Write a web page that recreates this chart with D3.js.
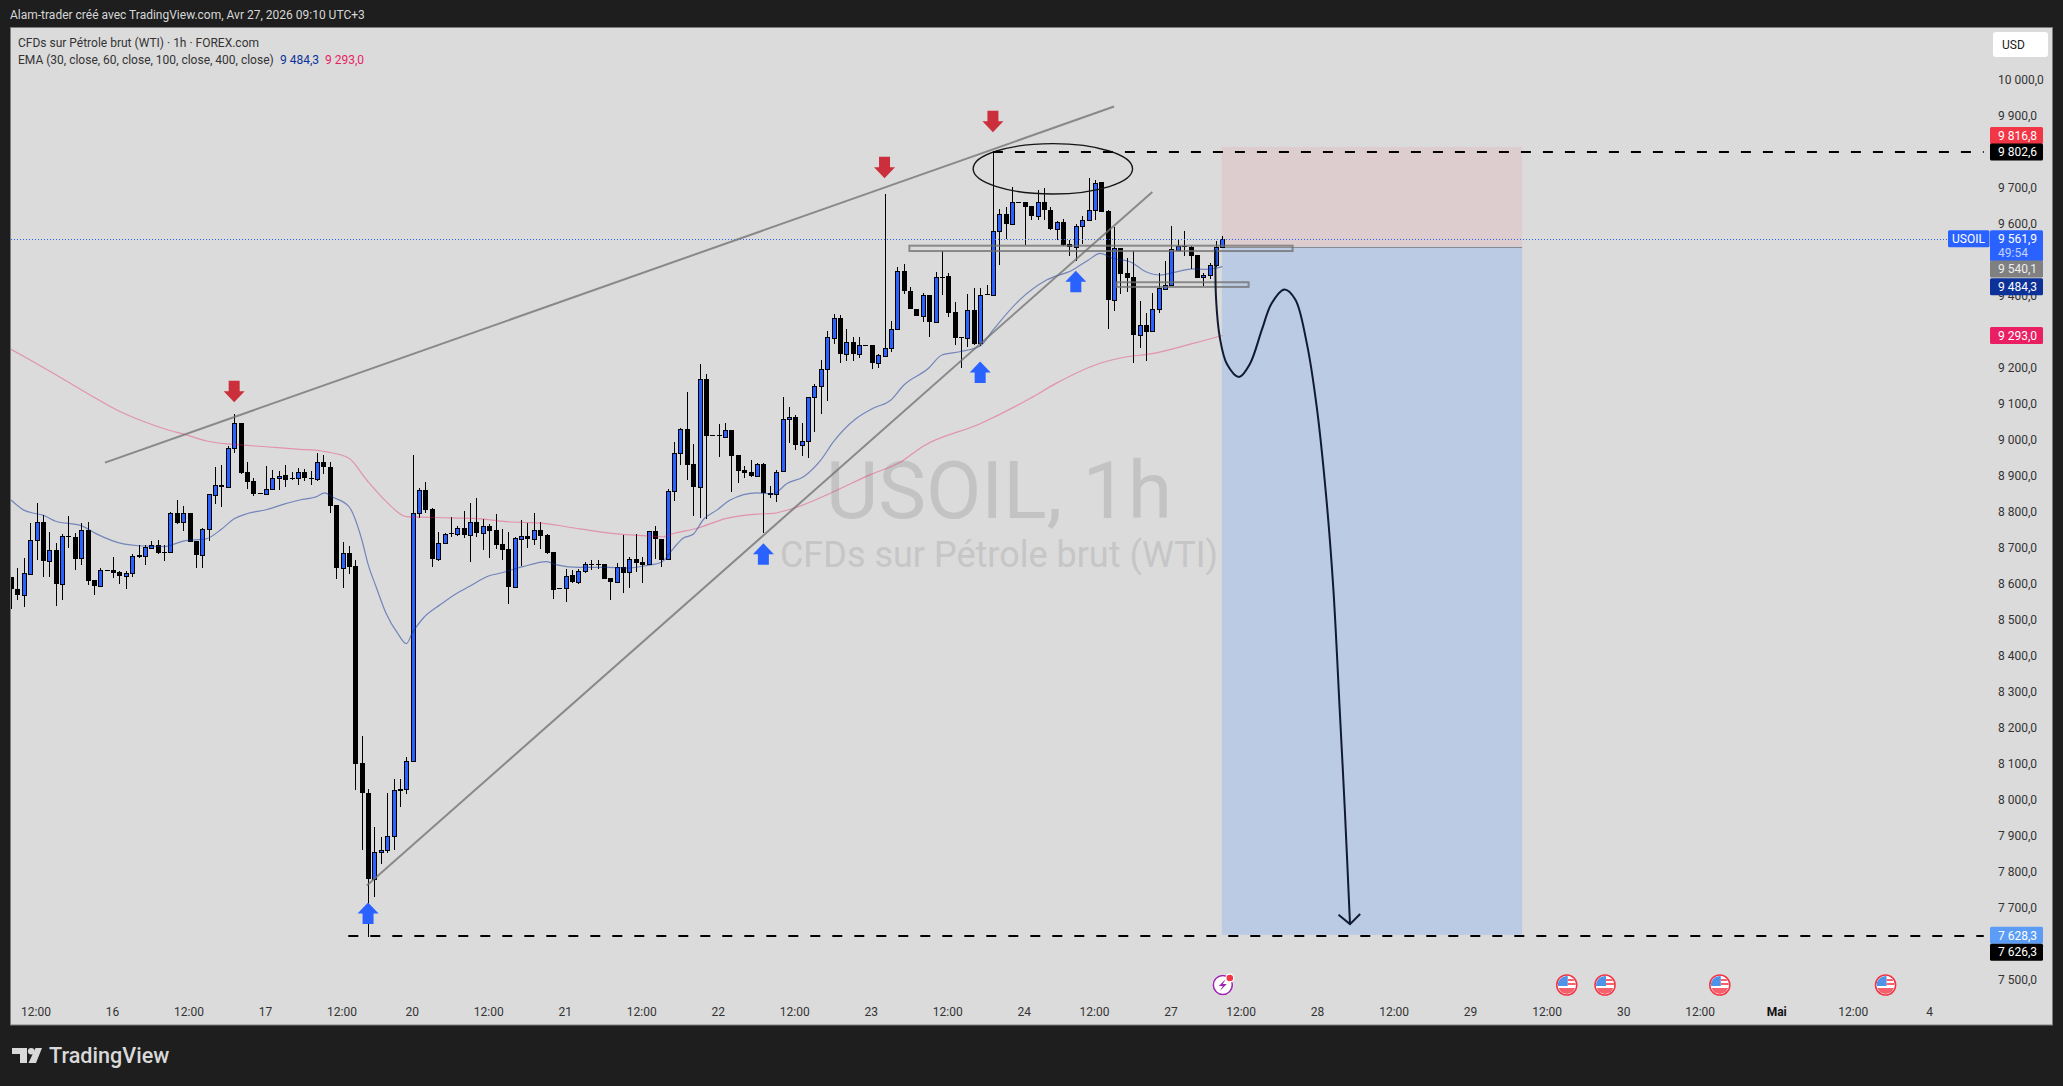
<!DOCTYPE html>
<html><head><meta charset="utf-8">
<script src="https://cdn.jsdelivr.net/npm/d3@7"></script>
<style>
html,body{margin:0;padding:0;background:#1e1e1e;overflow:hidden}
text{font-family:Roboto,"Noto Sans",sans-serif}
</style></head><body>
<svg id="c" width="2063" height="1086"></svg>
<script>
// ---------- DATA ----------
const candleOpen=[8621,8588,8573,8631,8724,8775,8668,8697,8604,8736,
8733,8674,8753,8614,8598,8641,8642,8636,8626,8633,
8683,8681,8704,8711,8693,8692,8801,8774,8801,8722,
8684,8755,8851,8877,8871,8980,9051,8913,8888,8855,
8854,8866,8897,8905,8897,8896,8913,8897,8894,8943,
8929,8821,8646,8690,8653,8105,8023,7782,7859,7865,
7902,8032,8032,8110,8801,8863,8810,8671,8718,8744,
8743,8757,8740,8775,8745,8764,8752,8713,8700,8595,
8729,8735,8729,8752,8738,8691,8592,8591,8627,8609,
8640,8657,8659,8659,8619,8607,8651,8635,8671,8663,
8657,8751,8727,8671,8862,8968,9032,8935,8873,9171,
9016,9017,9012,9030,8960,8919,8913,8904,8935,8855,
8852,8916,9060,9066,8990,8999,9121,9152,9199,9287,
9341,9242,9274,9242,9266,9266,9216,9237,9257,9310,
9471,9418,9368,9348,9405,9331,9456,9457,9357,9288,
9285,9363,9271,9408,9406,9582,9630,9604,9664,9663,
9652,9626,9663,9643,9590,9607,9546,9540,9596,9613,
9643,9719,9639,9393,9535,9467,9455,9295,9321,9305,
9367,9423,9432,9531,9543,9539,9517,9455,9460,9488,
9540.1];
const candleClose=[8588,8573,8633,8724,8775,8668,8696,8604,8736,8732,
8673,8753,8612,8598,8641,8640,8634,8626,8634,8680,
8677,8705,8710,8689,8690,8801,8773,8800,8720,8684,
8756,8852,8877,8871,8980,9050,8912,8887,8853,8854,
8866,8897,8904,8893,8895,8913,8896,8894,8943,8928,
8820,8646,8690,8651,8104,8021,7782,7859,7865,7902,
8030,8029,8110,8801,8863,8808,8671,8718,8741,8743,
8757,8740,8774,8745,8763,8751,8712,8697,8595,8730,
8735,8729,8752,8737,8689,8587,8590,8626,8609,8640,
8657,8656,8656,8618,8607,8651,8634,8671,8662,8656,
8751,8727,8669,8862,8968,9032,8934,8873,9171,9015,
9015,9015,9030,8959,8918,8912,8904,8935,8855,8850,
8915,9060,9066,8990,8999,9121,9152,9199,9288,9341,
9242,9274,9242,9266,9265,9216,9238,9257,9310,9471,
9417,9368,9348,9405,9331,9455,9454,9356,9287,9287,
9363,9270,9406,9406,9582,9630,9604,9663,9663,9651,
9626,9663,9643,9589,9607,9544,9540,9596,9613,9643,
9718,9637,9393,9535,9465,9454,9295,9321,9304,9367,
9424,9432,9532,9543,9539,9515,9454,9461,9488,9538,
9561.9];
const candleHigh=[8621,8648,8675,8772,8828,8795,8747,8717,8742,8792,
8745,8772,8774,8614,8648,8641,8678,8638,8640,8685,
8712,8712,8721,8725,8710,8802,8836,8819,8801,8722,
8759,8852,8928,8933,8987,9074,9051,8943,8898,8855,
8930,8920,8916,8932,8913,8926,8921,8916,8967,8962,
8943,8821,8719,8708,8670,8180,8033,7927,7900,8023,
8061,8061,8122,8960,8869,8886,8814,8747,8745,8788,
8764,8805,8827,8843,8782,8769,8797,8755,8748,8734,
8781,8771,8799,8776,8743,8691,8592,8644,8642,8644,
8665,8669,8669,8659,8619,8662,8739,8679,8741,8679,
8751,8764,8727,8868,8998,9035,9137,8992,9214,9186,
9016,9047,9049,9030,8960,8930,8947,8940,8938,8876,
8919,9121,9094,9073,9049,9121,9157,9225,9306,9353,
9350,9311,9288,9288,9266,9266,9242,9686,9333,9482,
9492,9427,9368,9410,9405,9470,9529,9468,9386,9288,
9408,9424,9426,9433,9804,9644,9649,9705,9664,9663,
9652,9697,9702,9651,9612,9616,9558,9603,9626,9730,
9725,9719,9641,9595,9536,9507,9528,9389,9355,9410,
9466,9500,9597,9561,9583,9542,9517,9468,9495,9555,
9569];
const candleLow=[8532,8558,8539,8628,8670,8623,8621,8542,8558,8702,
8643,8656,8600,8573,8598,8640,8620,8603,8590,8621,
8675,8656,8702,8687,8668,8692,8770,8751,8720,8646,
8648,8722,8826,8816,8871,8967,8909,8866,8848,8854,
8854,8866,8864,8873,8891,8878,8890,8879,8890,8907,
8799,8618,8593,8631,8031,7864,7621,7732,7826,7856,
7864,7983,8020,8110,8787,8801,8651,8666,8714,8734,
8737,8731,8665,8734,8697,8674,8700,8669,8547,8595,
8653,8702,8711,8700,8686,8561,8590,8554,8605,8603,
8634,8642,8644,8618,8558,8607,8579,8592,8635,8606,
8657,8671,8649,8671,8834,8933,8892,8792,8785,8783,
9015,8956,9012,8859,8884,8896,8901,8901,8745,8843,
8831,8916,8994,8975,8958,8952,9026,9075,9112,9269,
9218,9223,9223,9230,9265,9199,9204,9237,9248,9308,
9408,9366,9348,9331,9290,9331,9405,9345,9267,9202,
9262,9267,9264,9406,9406,9489,9561,9604,9663,9544,
9614,9614,9614,9586,9558,9542,9514,9500,9547,9612,
9614,9637,9310,9362,9408,9415,9217,9259,9223,9304,
9355,9423,9432,9529,9514,9478,9454,9431,9450,9484,
9535];

const emaFastBar=[0,2,4,5,7,11,13.4,17.6,20,24,27,30.7,33,35,37,40,42.7,45.3,48,49.2,50.5,53,55,56,57.3,58.8,60.7,62,63,64.7,67.3,70,72,74.6,77,80.3,84,85.6,89.2,93.4,96.5,99.7,102,103.9,105.4,107,108.6,110.7,112.8,117,119.5,121.7,124.3,127,129,132.6,135.2,138,140,143.9,146,148.8,152,154,158.2,162.4,166.5,169,170.8,172.9,175.5,178,180.2,182.8,185.4,187.5,190];
const emaFastValue=[8836,8808,8798,8794,8777,8765,8742,8714,8709,8707,8722,8729,8755,8784,8798,8809,8824,8836,8846,8856,8844,8818,8727,8658,8593,8522,8464,8437,8469,8509,8545,8578,8597,8623,8634,8651,8665,8656,8649,8649,8647,8654,8663,8702,8730,8741,8782,8808,8836,8856,8853,8882,8901,8947,8998,9063,9091,9114,9155,9202,9239,9248,9264,9308,9392,9447,9475,9503,9521,9507,9498,9470,9461,9470,9478,9477,9484.3];
const emaSlowBar=[0,3.5,7.7,12.4,16.6,20.8,24.4,27.5,30.7,33.8,36,40,45.3,48.5,49.5,53,55.8,58.9,62,65.7,70,72.5,77.7,83.5,89.2,95,99.2,102.3,103.9,107.5,112.2,117,119.5,122.7,129,134.7,139.4,143,152,159.8,163.9,170.8,175,178.7,185.4,190];
const emaSlowValue=[9255,9220,9177,9128,9086,9054,9032,9017,9000,8992,8989,8984,8977,8973,8970,8952,8891,8831,8790,8788,8786,8785,8776,8771,8756,8742,8737,8734,8743,8757,8785,8797,8799,8813,8859,8906,8940,8985,9048,9118,9160,9216,9234,9242,9271,9293];

const priceTicks=[7500,7700,7800,7900,8000,8100,8200,8300,8400,8500,8600,8700,8800,8900,9000,9100,9200,9400,9600,9700,9900,10000];
const timeTickBars=[4,16,28,40,52,63,75,87,99,111,123,135,147,159,170,182,193,205,217,229,241,253,265,277,289,301];
const timeTickLabels=["12:00","16","12:00","17","12:00","20","12:00","21","12:00","22","12:00","23","12:00","24","12:00","27","12:00","28","12:00","29","12:00","30","12:00","Mai","12:00","4"];

const upperTrendBars=[14.74,173], upperTrendPrices=[8940,9929];
const lowerTrendBars=[55.8,179], lowerTrendPrices=[7765,9692];
const zoneBars=[[140.9,201],[173.4,194.1]], zonePrices=[[9542.5,9527.7],[9441,9428]];
const ellipseBars=[150.9,175.9], ellipsePrices=[9826,9686];
const dashedBars=[[154,309.4],[52.9,309.4]], dashedPrices=[9802.6,7626.3];
const positionBars=[189.9,237], positionEntry=9540.1, positionStop=9816.8, positionTarget=7628.3;
const lastPrice=9561.9;

const downArrowBars=[35,137,154], downArrowPrices=[9107.5,9729.7,9857.5];
const upArrowBars=[56,118,152,167], upArrowPrices=[7718,8716,9221,9473];

const pathBars=[188.9,189,189.6,190.7,192.6,194.3,196.2,197.7,199.7,201.4,203.2,204.8,206.3,207.4,208.4,209.2,210];
const pathPrices=[9531,9394,9286,9214,9178,9214,9310,9382,9421,9394,9274,9093,8840,8587,8250,7973,7660];
const headBars=[208.2,210,211.6], headPrices=[7684,7658,7686];

const flagEventBars=[244,250,268,294];
const earningsEventBar=189.9;

const tagPrices=[9816.8,9802.6,9561.9,9540.1,9484.3,9293.0,7628.3,7626.3];
const tagColors=["#f23645","#000000","#2962ff","#808080","#0c3299","#e91e63","#5b9cf6","#000000"];
const tagOffsets=[-11.5,0,0,22.5,20,0,0.5,16.7];

// ---------- SCALES ----------
const W=2063,H=1086;
const x=d3.scaleLinear().domain([0,301]).range([11,1930.2]);
const y=d3.scaleLinear().domain([7500,10000]).range([981,81]);
const fmt=v=>{const s=v.toFixed(1).replace(".",",");return s.replace(/\B(?=(\d{3})(?!\d)(?=,))/g," ");};
const svg=d3.select("#c");

svg.append("rect").attr("width",W).attr("height",H).attr("fill","#1e1e1e");
svg.append("rect").attr("x",10.5).attr("y",27.5).attr("width",2042).attr("height",997.5)
  .attr("fill","#dbdbdb").attr("stroke","#7d7d7d").attr("stroke-width",1);
svg.append("defs").append("clipPath").attr("id","plot").append("rect")
  .attr("x",11).attr("y",28).attr("width",2041).attr("height",996);

const plot=svg.append("g").attr("clip-path","url(#plot)");

// watermark
plot.append("text").attr("x",999).attr("y",517.5).attr("text-anchor","middle")
  .attr("font-size",80.5).attr("fill","#c3c3c3").text("USOIL, 1h");
plot.append("text").attr("x",999).attr("y",567).attr("text-anchor","middle")
  .attr("font-size",36).attr("fill","#c6c6c6").text("CFDs sur Pétrole brut (WTI)");

// position tool
plot.append("rect").attr("x",x(positionBars[0])).attr("width",x(positionBars[1])-x(positionBars[0]))
  .attr("y",y(positionStop)).attr("height",y(positionEntry)-y(positionStop)).attr("fill","#ddcdce");
plot.append("rect").attr("x",x(positionBars[0])).attr("width",x(positionBars[1])-x(positionBars[0]))
  .attr("y",y(positionEntry)).attr("height",y(positionTarget)-y(positionEntry)).attr("fill","#bbcbe3");
plot.append("line").attr("x1",x(positionBars[0])).attr("x2",x(positionBars[1]))
  .attr("y1",Math.round(y(positionEntry))+.5).attr("y2",Math.round(y(positionEntry))+.5)
  .attr("stroke","#8c8c8c");

// candles
const bars=d3.range(candleOpen.length);
const g=plot.append("g").attr("shape-rendering","crispEdges");
bars.forEach(i=>{
  const up=candleClose[i]>candleOpen[i];
  const cx=Math.round(x(i));
  const top=Math.round(y(Math.max(candleOpen[i],candleClose[i])));
  const bot=Math.max(top+1,Math.round(y(Math.min(candleOpen[i],candleClose[i]))));
  g.append("rect").attr("x",cx).attr("width",1).attr("fill","#000")
    .attr("y",Math.round(y(candleHigh[i]))).attr("height",Math.max(1,Math.round(y(candleLow[i]))-Math.round(y(candleHigh[i]))));
  if(up && bot-top>=2){
    g.append("rect").attr("x",cx-2+.5).attr("width",4).attr("y",top+.5).attr("height",bot-top-1+1)
      .attr("fill","#2962ff").attr("stroke","#000").attr("stroke-width",1);
  } else {
    g.append("rect").attr("x",cx-2).attr("width",5).attr("y",top).attr("height",Math.max(1,bot-top)).attr("fill","#000");
  }
});

// EMA lines
const lineGen=d3.line().x(d=>x(d[0])).y(d=>y(d[1])).curve(d3.curveMonotoneX);
plot.append("path").attr("d",lineGen(d3.zip(emaSlowBar,emaSlowValue))).attr("fill","none")
  .attr("stroke","#e91e63").attr("stroke-opacity",.38).attr("stroke-width",1.2);
plot.append("path").attr("d",lineGen(d3.zip(emaFastBar,emaFastValue))).attr("fill","none")
  .attr("stroke","#0c3299").attr("stroke-opacity",.5).attr("stroke-width",1.2);

// last price dotted
plot.append("line").attr("x1",11).attr("x2",1948).attr("y1",Math.round(y(lastPrice))+.5).attr("y2",Math.round(y(lastPrice))+.5)
  .attr("stroke","#2962ff").attr("stroke-dasharray","1 2");

// trendlines
const straight=d3.line().x(d=>x(d[0])).y(d=>y(d[1]));
[[upperTrendBars,upperTrendPrices],[lowerTrendBars,lowerTrendPrices]].forEach(([b,p])=>{
  plot.append("path").attr("d",straight(d3.zip(b,p))).attr("stroke","#6e6e6e").attr("stroke-opacity",.75)
    .attr("stroke-width",2).attr("fill","none");
});
// zones
zoneBars.forEach((b,k)=>{
  plot.append("rect").attr("x",x(b[0])).attr("width",x(b[1])-x(b[0])).attr("y",y(zonePrices[k][0]))
    .attr("height",y(zonePrices[k][1])-y(zonePrices[k][0])).attr("fill","none")
    .attr("stroke","#6e6e6e").attr("stroke-opacity",.75).attr("stroke-width",2);
});
// ellipse
plot.append("ellipse").attr("cx",(x(ellipseBars[0])+x(ellipseBars[1]))/2).attr("cy",(y(ellipsePrices[0])+y(ellipsePrices[1]))/2)
  .attr("rx",(x(ellipseBars[1])-x(ellipseBars[0]))/2).attr("ry",(y(ellipsePrices[1])-y(ellipsePrices[0]))/2)
  .attr("fill","none").attr("stroke","#151515").attr("stroke-width",1.4);
// dashed levels
dashedBars.forEach((b,k)=>{
  plot.append("line").attr("x1",x(b[0])).attr("x2",x(b[1])).attr("y1",Math.round(y(dashedPrices[k]))).attr("y2",Math.round(y(dashedPrices[k])))
    .attr("stroke","#000").attr("stroke-width",2).attr("stroke-dasharray","10 12");
});
// arrows
const arrowPath=(px,py,d)=>`M${px} ${py}L${px+10.5} ${py+d*11}H${px+5.5}V${py+d*21.5}H${px-5.5}V${py+d*11}H${px-10.5}Z`;
downArrowBars.forEach((b,k)=>plot.append("path").attr("d",arrowPath(x(b),y(downArrowPrices[k]),-1)).attr("fill","#cc2f3c"));
upArrowBars.forEach((b,k)=>plot.append("path").attr("d",arrowPath(x(b),y(upArrowPrices[k]),1)).attr("fill","#2962ff"));

// projected path
const curve=d3.line().x(d=>x(d[0])).y(d=>y(d[1])).curve(d3.curveCatmullRom.alpha(.5));
plot.append("path").attr("d",curve(d3.zip(pathBars,pathPrices))).attr("fill","none")
  .attr("stroke","#101a30").attr("stroke-width",2);
plot.append("path").attr("d",straight(d3.zip(headBars,headPrices))).attr("fill","none")
  .attr("stroke","#101a30").attr("stroke-width",2);

// events
const eventY=985;
flagEventBars.forEach((b,k)=>{
  const cx=x(b), id="fl"+k;
  const d=svg.select("defs").append("clipPath").attr("id",id);
  d.append("circle").attr("cx",cx).attr("cy",eventY).attr("r",9);
  const e=svg.append("g");
  e.append("circle").attr("cx",cx).attr("cy",eventY).attr("r",10).attr("fill","#fff").attr("stroke","#f23645").attr("stroke-width",1.6);
  const f=e.append("g").attr("clip-path",`url(#${id})`);
  f.append("rect").attr("x",cx-9).attr("y",eventY-9).attr("width",18).attr("height",18).attr("fill","#fff");
  f.append("rect").attr("x",cx-9).attr("y",eventY-9).attr("width",10).attr("height",10).attr("fill","#4f93e8");
  f.append("rect").attr("x",cx+1).attr("y",eventY-6).attr("width",9).attr("height",2).attr("fill","#f4606c");
  f.append("rect").attr("x",cx+1).attr("y",eventY-2).attr("width",9).attr("height",2).attr("fill","#f4606c");
  f.append("rect").attr("x",cx-9).attr("y",eventY+3).attr("width",18).attr("height",6).attr("fill","#f4606c");
});
{
  const cx=x(earningsEventBar)+1;
  const e=svg.append("g");
  e.append("circle").attr("cx",cx).attr("cy",eventY).attr("r",10.5).attr("fill","#fff");
  e.append("circle").attr("cx",cx).attr("cy",eventY).attr("r",9.5).attr("fill","none").attr("stroke","#9c27b0").attr("stroke-width",1.6);
  e.append("path").attr("d",`M${cx+3} ${eventY-6}L${cx-4} ${eventY+1}H${cx}L${cx-3} ${eventY+6}L${cx+4} ${eventY-1}H${cx}Z`).attr("fill","#9c27b0");
  e.append("circle").attr("cx",cx+7).attr("cy",eventY-7).attr("r",4.5).attr("fill","#fff");
  e.append("circle").attr("cx",cx+7).attr("cy",eventY-7).attr("r",3.3).attr("fill","#f23645");
}

// axes
const yAxis=d3.axisRight(y).tickValues(priceTicks).tickSize(0).tickPadding(0).tickFormat(fmt);
const ya=svg.append("g").attr("transform","translate(1998,-1)").call(yAxis);
ya.select(".domain").remove();
ya.selectAll("text").attr("font-size",12).attr("fill","#333").style("font-family","Roboto");

const xAxis=d3.axisBottom(x).tickValues(timeTickBars).tickSize(0).tickPadding(0)
  .tickFormat((d,i)=>timeTickLabels[i]);
const xa=svg.append("g").attr("transform","translate(-1,1007)").call(xAxis);
xa.select(".domain").remove();
xa.selectAll("text").attr("font-size",12).attr("fill","#333").style("font-family","Roboto")
  .attr("font-weight",(d,i)=>timeTickLabels[i]==="Mai"?700:400)
  .attr("fill",(d,i)=>timeTickLabels[i]==="Mai"?"#111":"#333");

// price tags
tagPrices.forEach((p,k)=>{
  const cy=y(p)+tagOffsets[k];
  const taller=k===2;
  svg.append("rect").attr("x",1990).attr("width",53).attr("y",cy-8.5).attr("height",taller?31:17).attr("rx",1.5).attr("fill",tagColors[k]);
  svg.append("text").attr("x",1998).attr("y",cy+4.2).attr("font-size",12).attr("fill",k===3?"#eee":"#fff").text(fmt(p));
  if(taller) svg.append("text").attr("x",1998).attr("y",cy+18).attr("font-size",12).attr("fill","#fff").attr("fill-opacity",.72).text("49:54");
});
svg.append("rect").attr("x",1948).attr("width",41.5).attr("y",y(lastPrice)-8.5).attr("height",17).attr("rx",1.5).attr("fill","#2962ff");
svg.append("text").attr("x",1952).attr("y",y(lastPrice)+4.2).attr("font-size",12).attr("fill","#fff").text("USOIL");

// USD button
svg.append("rect").attr("x",1993).attr("y",32).attr("width",55).attr("height",25).attr("rx",3).attr("fill","#fff");
svg.append("text").attr("x",2002).attr("y",48.5).attr("font-size",12).attr("fill","#222").text("USD");

// header texts
svg.append("text").attr("x",10).attr("y",19).attr("font-size",12).attr("fill","#d6d6d6")
  .text("Alam-trader créé avec TradingView.com, Avr 27, 2026 09:10 UTC+3");
svg.append("text").attr("x",18).attr("y",47).attr("font-size",12).attr("fill","#333")
  .text("CFDs sur Pétrole brut (WTI) · 1h · FOREX.com");
svg.append("text").attr("x",18).attr("y",64).attr("font-size",12).attr("fill","#333")
  .text("EMA (30, close, 60, close, 100, close, 400, close)");
svg.append("text").attr("x",280).attr("y",64).attr("font-size",12).attr("fill","#0c3299").text(fmt(emaFastValue[emaFastValue.length-1]));
svg.append("text").attr("x",325).attr("y",64).attr("font-size",12).attr("fill","#e91e63").text(fmt(9293.0));

// footer logo
const logo=svg.append("g").attr("fill","#d9d9d9");
logo.append("path").attr("d","M12 1048H27V1063H20V1054H12Z");
logo.append("circle").attr("cx",31.2).attr("cy",1051.3).attr("r",3.3);
logo.append("path").attr("d","M42 1048H35.5L28.5 1063H36Z");
svg.append("text").attr("x",49).attr("y",1063).attr("font-size",21.6).attr("font-weight",500).attr("fill","#d9d9d9").text("TradingView");
</script>
</body></html>
